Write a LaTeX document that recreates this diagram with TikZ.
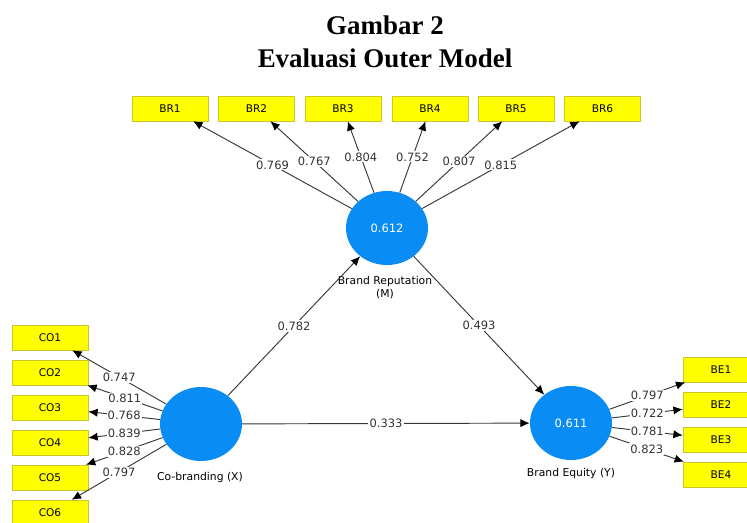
\documentclass[tikz,border=0pt]{standalone}
\usepackage{fontspec}
\setmainfont{Liberation Serif}
\setsansfont{DejaVu Sans}
\usetikzlibrary{arrows.meta,shapes.geometric}
\definecolor{lvblue}{RGB}{10,140,245}
\definecolor{indyel}{RGB}{255,255,0}
\definecolor{indrim}{RGB}{200,200,40}
\definecolor{pathgray}{RGB}{55,55,55}

\begin{document}
\begin{tikzpicture}[x=0.03cm, y=-0.03cm, >={Latex[length=8pt,width=7pt,color=black]},
  ind/.style={draw=indrim, fill=indyel, minimum width=2.28cm, minimum height=0.75cm, inner sep=0pt, font=\sffamily\fontsize{9}{10}\selectfont},
  lv/.style={ellipse, fill=lvblue, minimum width=2.46cm, minimum height=2.22cm, inner sep=0pt, text=white, font=\sffamily\fontsize{9.8}{11}\selectfont},
  ld/.style={fill=white, inner sep=1pt, text=black!80, font=\sffamily\fontsize{9.8}{11}\selectfont},
  nm/.style={align=center, font=\sffamily\fontsize{9.2}{11}\selectfont},
  pth/.style={->, draw=pathgray, line width=0.8pt}]
\useasboundingbox (0,0) rectangle (747,522);
\clip (0,0) rectangle (747,522);
% title
\node[anchor=base, font=\bfseries\fontsize{23}{28}\selectfont] (title1) at (385,34) {Gambar 2};
\node[anchor=base, font=\bfseries\fontsize{23}{28}\selectfont] (title2) at (385,67) {Evaluasi Outer Model};
% latent variables
\node[lv] (br) at (387,228) {0.612};
\node[lv] (co) at (201,424) {};
\node[lv] (be) at (571,423) {0.611};
\node[nm] (brn) at (385,288) {Brand Reputation\\(M)};
\node[nm] (con) at (200,478) {Co-branding (X)};
\node[nm] (ben) at (571,474) {Brand Equity (Y)};
% indicators
\foreach \i/\x/\v in {1/170/0.769,2/256.5/0.767,3/343/0.804,4/430/0.752,5/516/0.807,6/602.5/0.815}{
  \node[ind] (br\i) at (\x,108.5) {BR\i};
  \draw[pth] (br) -- node[ld] {\v} (br\i);
}
\foreach \i/\v in {1/0.747,2/0.811,3/0.768,4/0.839,5/0.828,6/0.797}{
  \node[ind] (co\i) at (50,302.5+35*\i) {CO\i};
  \draw[pth] (co) -- node[ld] {\v} (co\i);
}
\foreach \i/\v in {1/0.797,2/0.722,3/0.781,4/0.823}{
  \node[ind] (be\i) at (721,334.5+35*\i) {BE\i};
  \draw[pth] (be) -- node[ld] {\v} (be\i);
}
% structural paths
\draw[pth] (co) -- node[ld] {0.782} (br);
\draw[pth] (co) -- node[ld] {0.333} (be);
\draw[pth] (br) -- node[ld] {0.493} (be);
\end{tikzpicture}
\end{document}
